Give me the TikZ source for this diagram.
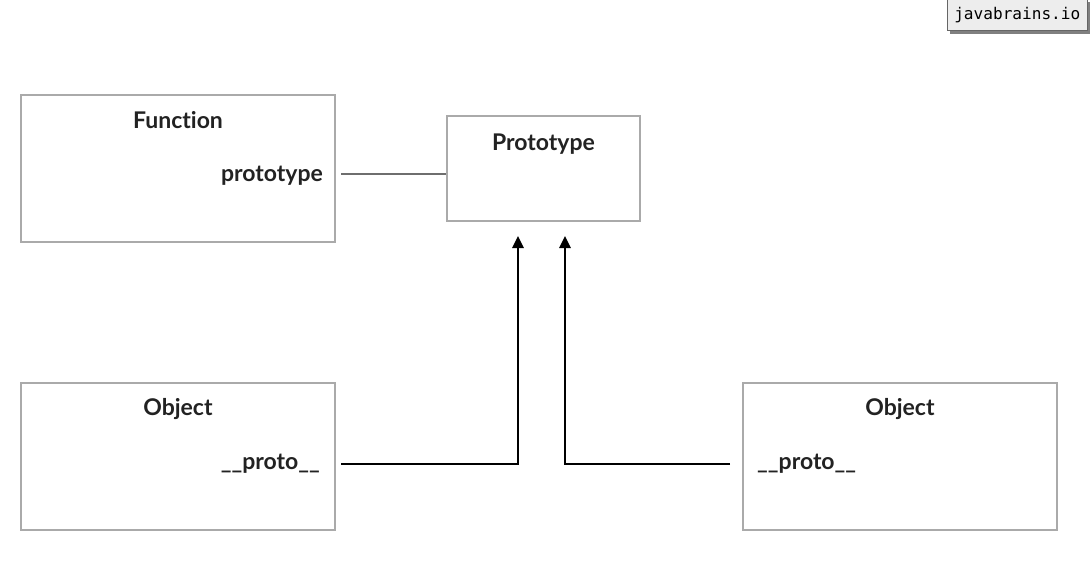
\documentclass[tikz,border=0pt]{standalone}
\usepackage{fontspec}
\setmainfont{Lato}[Ligatures={NoCommon}]
\setmonofont{DejaVu Sans Mono}
\usetikzlibrary{arrows.meta,calc}
\definecolor{boxgray}{HTML}{AAAAAA}
\definecolor{txt}{HTML}{222222}
\definecolor{linegray}{HTML}{6E6E6E}
\definecolor{tagfill}{HTML}{EDEDED}
\begin{document}
\begin{tikzpicture}[x=1pt,y=-1pt,
  objbox/.style={draw=boxgray,line width=1.5pt,minimum width=314pt,minimum height=147pt,inner sep=0pt},
  protobox/.style={draw=boxgray,line width=1.5pt,minimum width=193pt,minimum height=105pt,inner sep=0pt},
  lbl/.style={font=\fontsize{23}{26}\selectfont\bfseries,text=txt,inner sep=0pt},
  link/.style={draw=linegray,line width=1.6pt},
  ptr/.style={draw=black,line width=2.6pt,-{Triangle[length=12pt,width=11pt]}}
]
\useasboundingbox (0,0) rectangle (1090,562);
% tag
\fill[black!50] (950,2) rectangle (1091,34);
\node[draw=black!60,line width=0.6pt,fill=tagfill,minimum width=140pt,minimum height=31pt,inner sep=0pt,anchor=north west,
  font=\fontsize{16.1}{18}\ttfamily] (tag) at (947,-1) {javabrains.io};
% boxes
\node[objbox] (func) at (178,168.5) {};
\node[protobox] (proto) at (543.5,168.5) {};
\node[objbox] (objl) at (178,456.5) {};
\node[objbox] (objr) at (900,456.5) {};
% labels
\node[lbl] (funct) at (178,120.5) {Function};
\node[lbl,anchor=east] (fnproto) at (323,176) {prototype};
\node[lbl] (protot) at (543.5,144) {Prototype};
\node[lbl] (objlt) at (178,409) {Object};
\node[lbl] (objrt) at (900,409) {Object};
\node[lbl,anchor=east] (plink) at (320,464) {\_\_proto\_\_};
\node[lbl,anchor=west] (prlink) at (757,464) {\_\_proto\_\_};
% coordinates
\coordinate (a1) at (518,236);
\coordinate (a2) at (565,236);
\coordinate (s1) at (341,464);
\coordinate (s2) at (730,464);
\coordinate (f1) at (341,174);
% connectors
\draw[link] (f1) -- (f1 -| proto.west);
\draw[ptr] (s1) -| (a1);
\draw[ptr] (s2) -| (a2);
\end{tikzpicture}
\end{document}
